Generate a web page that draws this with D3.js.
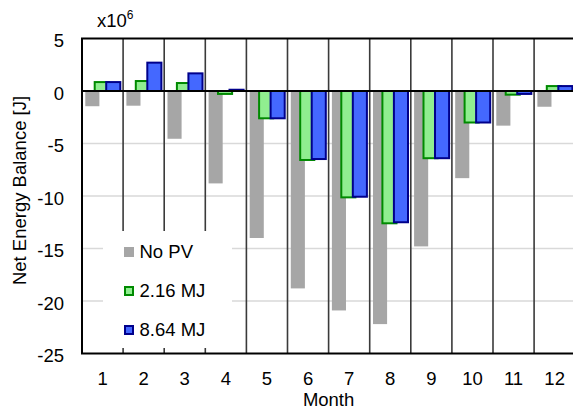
<!DOCTYPE html>
<html>
<head>
<meta charset="utf-8">
<script src="https://cdn.jsdelivr.net/npm/d3@7"></script>
<style>
  html, body { margin: 0; padding: 0; background: #fff; }
  svg { display: block; font-family: "Liberation Sans", Arial, sans-serif; }
</style>
</head>
<body>
<svg id="chart" width="573" height="412"></svg>
<script>
// Monthly net energy balance (units of 1e6 J)
const months = [1, 2, 3, 4, 5, 6, 7, 8, 9, 10, 11, 12];
const noPV   = [-1.45, -1.4, -4.55, -8.8, -14.0, -18.8, -20.9, -22.2, -14.8, -8.3, -3.3, -1.5];
const pv216  = [0.85, 0.95, 0.76, -0.28, -2.6, -6.57, -10.13, -12.6, -6.4, -3.0, -0.35, 0.47];
const pv864  = [0.85, 2.7, 1.68, 0.12, -2.6, -6.48, -10.07, -12.5, -6.4, -3.0, -0.28, 0.47];
const yTicks = [5, 0, -5, -10, -15, -20, -25];
const gridValues = [-5, -10, -15, -20];
const seriesNames = ["No PV", "2.16 MJ", "8.64 MJ"];

const series = [
  { name: seriesNames[0], values: noPV,  fill: "#a6a6a6", stroke: "none",    offset: 0.080 },
  { name: seriesNames[1], values: pv216, fill: "#90ee90", stroke: "#008a00", offset: 0.309 },
  { name: seriesNames[2], values: pv864, fill: "#4468ff", stroke: "#00008b", offset: 0.589 }
];

const svg = d3.select("#chart");
const fontSize = 18.5;
const plotLeft = 82, plotTop = 38.5, plotBottom = 353.5, bandW = 41.1;
const plotRight = plotLeft + bandW * months.length;

const x = d3.scaleBand().domain(months).range([plotLeft, plotRight]).padding(0);
const y = d3.scaleLinear().domain([-25, 5]).range([plotBottom, plotTop]);
const barW = x.bandwidth() * 0.343;

// horizontal gridlines
svg.append("g").selectAll("line").data(gridValues).join("line")
  .attr("x1", plotLeft).attr("x2", plotRight)
  .attr("y1", d => y(d)).attr("y2", d => y(d))
  .attr("stroke", "#d9d9d9").attr("stroke-width", 1.5);

// month separators
svg.append("g").selectAll("line").data(months.slice(1)).join("line")
  .attr("x1", d => x(d)).attr("x2", d => x(d))
  .attr("y1", plotTop).attr("y2", plotBottom)
  .attr("stroke", "#3a3a3a").attr("stroke-width", 1.6);

// bars
series.forEach(s => {
  svg.append("g").selectAll("rect").data(months).join("rect")
    .attr("x", m => x(m) + x.bandwidth() * s.offset)
    .attr("width", barW)
    .attr("y", (m, i) => Math.min(y(0), y(s.values[i])))
    .attr("height", (m, i) => Math.abs(y(s.values[i]) - y(0)))
    .attr("fill", s.fill)
    .attr("stroke", s.stroke)
    .attr("stroke-width", 2);
});

// zero line
svg.append("line")
  .attr("x1", plotLeft).attr("x2", plotRight)
  .attr("y1", y(0)).attr("y2", y(0))
  .attr("stroke", "#000").attr("stroke-width", 2);

// plot frame
svg.append("rect")
  .attr("x", plotLeft).attr("y", plotTop)
  .attr("width", plotRight - plotLeft).attr("height", plotBottom - plotTop)
  .attr("fill", "none").attr("stroke", "#000").attr("stroke-width", 2);

// y axis (plain hyphen for negatives)
const yAxis = svg.append("g")
  .attr("transform", `translate(${plotLeft},0)`)
  .call(d3.axisLeft(y).tickValues(yTicks).tickSize(0).tickPadding(18).tickFormat(d => String(d)));
yAxis.select(".domain").remove();
yAxis.selectAll("text")
  .attr("font-size", fontSize).attr("font-family", "Liberation Sans, Arial, sans-serif")
  .attr("fill", "#000").attr("dy", "0.44em");

// x axis
const xAxis = svg.append("g")
  .attr("transform", `translate(0,${plotBottom})`)
  .call(d3.axisBottom(x).tickSize(0).tickPadding(18.4));
xAxis.select(".domain").remove();
xAxis.selectAll("text")
  .attr("font-size", fontSize).attr("font-family", "Liberation Sans, Arial, sans-serif")
  .attr("fill", "#000");

// scale multiplier
const mult = svg.append("text")
  .attr("x", 97).attr("y", 26.7)
  .attr("font-size", fontSize).attr("fill", "#000");
mult.append("tspan").text("x10");
mult.append("tspan").attr("font-size", 12).attr("dy", -7.5).text("6");

// axis titles
svg.append("text")
  .attr("transform", "translate(25.5,190.5) rotate(-90)")
  .attr("text-anchor", "middle")
  .attr("font-size", fontSize).attr("fill", "#000")
  .text("Net Energy Balance [J]");

svg.append("text")
  .attr("x", (plotLeft + plotRight) / 2).attr("y", 406)
  .attr("text-anchor", "middle")
  .attr("font-size", fontSize).attr("fill", "#000")
  .text("Month");

// legend
const legend = svg.append("g");
legend.append("rect")
  .attr("x", 103).attr("y", 231).attr("width", 129).attr("height", 117)
  .attr("fill", "#fff");
const items = legend.selectAll("g.item").data(series).join("g")
  .attr("class", "item")
  .attr("transform", (d, i) => `translate(0,${i * 39})`);
items.append("rect")
  .attr("x", d => d.stroke === "none" ? 124 : 125)
  .attr("y", d => d.stroke === "none" ? 247 : 248)
  .attr("width", d => d.stroke === "none" ? 10 : 8)
  .attr("height", d => d.stroke === "none" ? 10 : 8)
  .attr("fill", d => d.fill)
  .attr("stroke", d => d.stroke)
  .attr("stroke-width", 2);
items.append("text")
  .attr("x", 139.5).attr("y", 257.5)
  .attr("font-size", fontSize).attr("fill", "#000")
  .text(d => d.name);
</script>
</body>
</html>
